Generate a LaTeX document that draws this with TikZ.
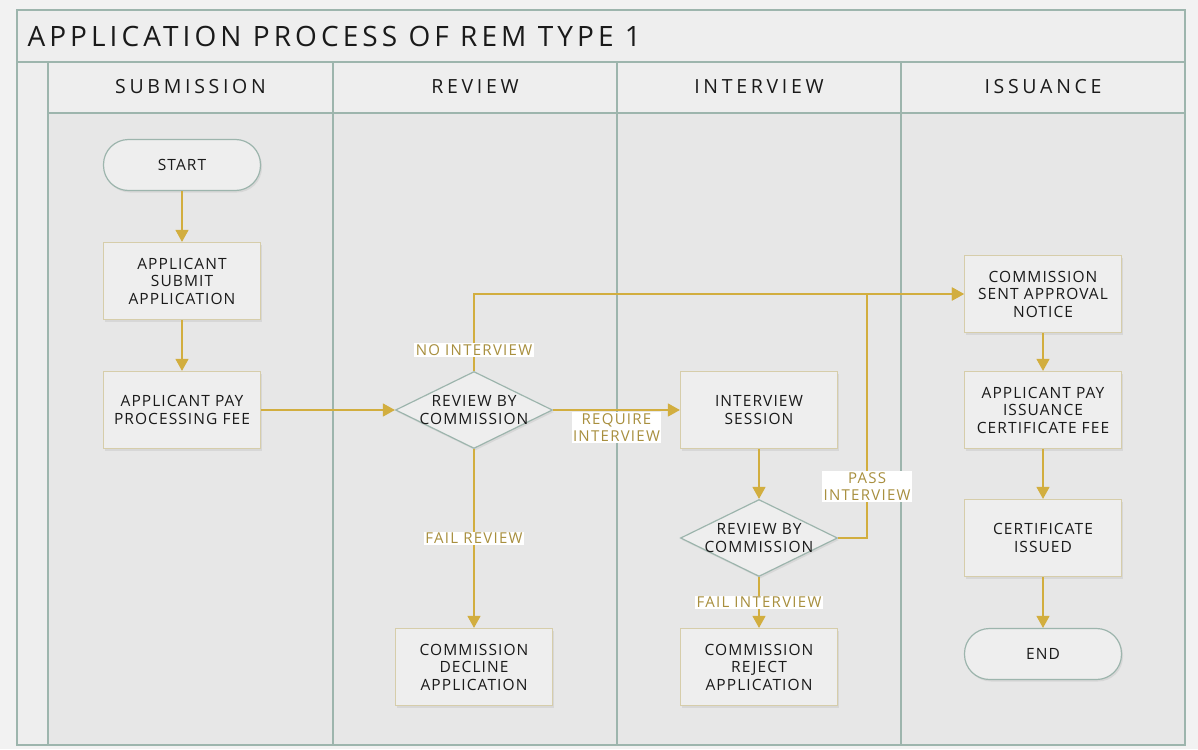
\documentclass[tikz,border=0pt]{standalone}
\usepackage{fontspec}
\setmainfont{Open Sans}
\newfontfamily\titlefamily[LetterSpace=14.5]{Open Sans}
\newfontfamily\headfamily[LetterSpace=19]{Open Sans}
\newfontfamily\boxfamily[LetterSpace=7]{Open Sans}
\newfontfamily\lblfamily[LetterSpace=8.5]{Open Sans}
\usetikzlibrary{arrows.meta,shapes.geometric,shadows,positioning}
\definecolor{framecol}{HTML}{9DB5AD}
\definecolor{flowcol}{HTML}{D2AE3F}
\definecolor{lblcol}{HTML}{A88F3E}
\definecolor{boxline}{HTML}{D6CDAA}
\definecolor{lanebg}{HTML}{E7E7E7}
\definecolor{headbg}{HTML}{EEEEEE}
\definecolor{pagebg}{HTML}{F2F2F2}
\definecolor{inkcol}{HTML}{1A1A1A}
\newcommand{\nodefont}{\boxfamily\fontsize{15.5}{17.5}\selectfont}
\tikzset{
  shade box/.style={drop shadow={opacity=0.15,shadow xshift=1.5pt,shadow yshift=-2pt}},
  pbox/.style={rectangle,draw=boxline,line width=1.2pt,fill=headbg,minimum width=157pt,
    minimum height=77pt,inner sep=0pt,align=center,font=\nodefont,text=inkcol,shade box},
  term/.style={rectangle,rounded corners=25pt,draw=framecol,line width=1.2pt,fill=headbg,
    minimum width=157pt,minimum height=51pt,inner sep=0pt,font=\nodefont,text=inkcol,shade box},
  dec/.style={diamond,draw=framecol,line width=1.2pt,fill=headbg,minimum width=157pt,
    minimum height=77pt,inner sep=0pt,shade box},
  flow/.style={draw=flowcol,line width=1.3pt,-{Triangle[length=12pt,width=13pt]}},
  lbl/.style={fill=white,text=lblcol,inner sep=1.5pt,align=center,
    font=\lblfamily\fontsize{15}{17.5}\selectfont},
  lanehead/.style={font=\headfamily\fontsize{19.5}{24}\selectfont,text=inkcol}
}
\begin{document}
\begin{tikzpicture}[x=1pt,y=-1pt]
\useasboundingbox (0,0) rectangle (1198,749);
\fill[pagebg] (0,0) rectangle (1198,749);

% frame and lanes
\fill[lanebg] (17,10) rectangle (1185,745);
\fill[headbg] (17,10) rectangle (1185,113);
\fill[headbg] (17,62) rectangle (48,745);
\draw[framecol,line width=1.5pt] (17,10) rectangle (1185,745);
\draw[framecol,line width=1.5pt] (17,62) -- (1185,62);
\draw[framecol,line width=1.5pt] (48,113) -- (1185,113);
\foreach \x in {48,333,617,901}
  \draw[framecol,line width=1.5pt] (\x,62) -- (\x,745);

\node[anchor=west,font=\titlefamily\fontsize{28}{32}\selectfont,text=inkcol] (title) at (24,36) {APPLICATION PROCESS OF REM TYPE 1};
\node[lanehead] (h1) at (190.5,87) {SUBMISSION};
\node[lanehead] (h2) at (475,87) {REVIEW};
\node[lanehead] (h3) at (759,87) {INTERVIEW};
\node[lanehead] (h4) at (1043,87) {ISSUANCE};

% submission
\node[term] (start) at (182,165) {START};
\node[pbox] (submit) at (182,281) {APPLICANT\\SUBMIT\\APPLICATION};
\node[pbox] (payfee) at (182,410) {APPLICANT PAY\\PROCESSING FEE};

% review
\node[dec,label={[align=center,font=\nodefont,text=inkcol]center:REVIEW BY\\COMMISSION}] (rev1) at (474,410) {};
\node[pbox] (decline) at (474,667) {COMMISSION\\DECLINE\\APPLICATION};

% interview
\node[pbox] (session) at (759,410) {INTERVIEW\\SESSION};
\node[dec,label={[align=center,font=\nodefont,text=inkcol]center:REVIEW BY\\COMMISSION}] (rev2) at (759,538) {};
\node[pbox] (reject) at (759,667) {COMMISSION\\REJECT\\APPLICATION};

% issuance
\node[pbox] (notice) at (1043,294) {COMMISSION\\SENT APPROVAL\\NOTICE};
\node[pbox] (payiss) at (1043,410) {APPLICANT PAY\\ISSUANCE\\CERTIFICATE FEE};
\node[pbox] (issued) at (1043,538) {CERTIFICATE\\ISSUED};
\node[term] (end) at (1043,654) {END};

% connectors
\draw[flow] (start) -- (submit);
\draw[flow] (submit) -- (payfee);
\draw[flow] (payfee) -- (rev1);
\draw[flow] (rev1.north) |- node[lbl,pos=0.135]{NO INTERVIEW} (notice.west);
\draw[flow] (rev1.east) -- node[lbl,midway,below=1pt]{REQUIRE\\INTERVIEW} (session.west);
\draw[flow] (rev1.south) -- node[lbl,midway]{FAIL REVIEW} (decline.north);
\draw[flow] (session) -- (rev2);
\draw[flow] (rev2.east) -- ++(29,0) coordinate (pj) -- node[lbl,pos=0.21]{PASS\\INTERVIEW} (pj |- notice.west) -- (notice.west);
\draw[flow] (rev2.south) -- node[lbl,midway]{FAIL INTERVIEW} (reject.north);
\draw[flow] (notice) -- (payiss);
\draw[flow] (payiss) -- (issued);
\draw[flow] (issued) -- (end);

\end{tikzpicture}
\end{document}
